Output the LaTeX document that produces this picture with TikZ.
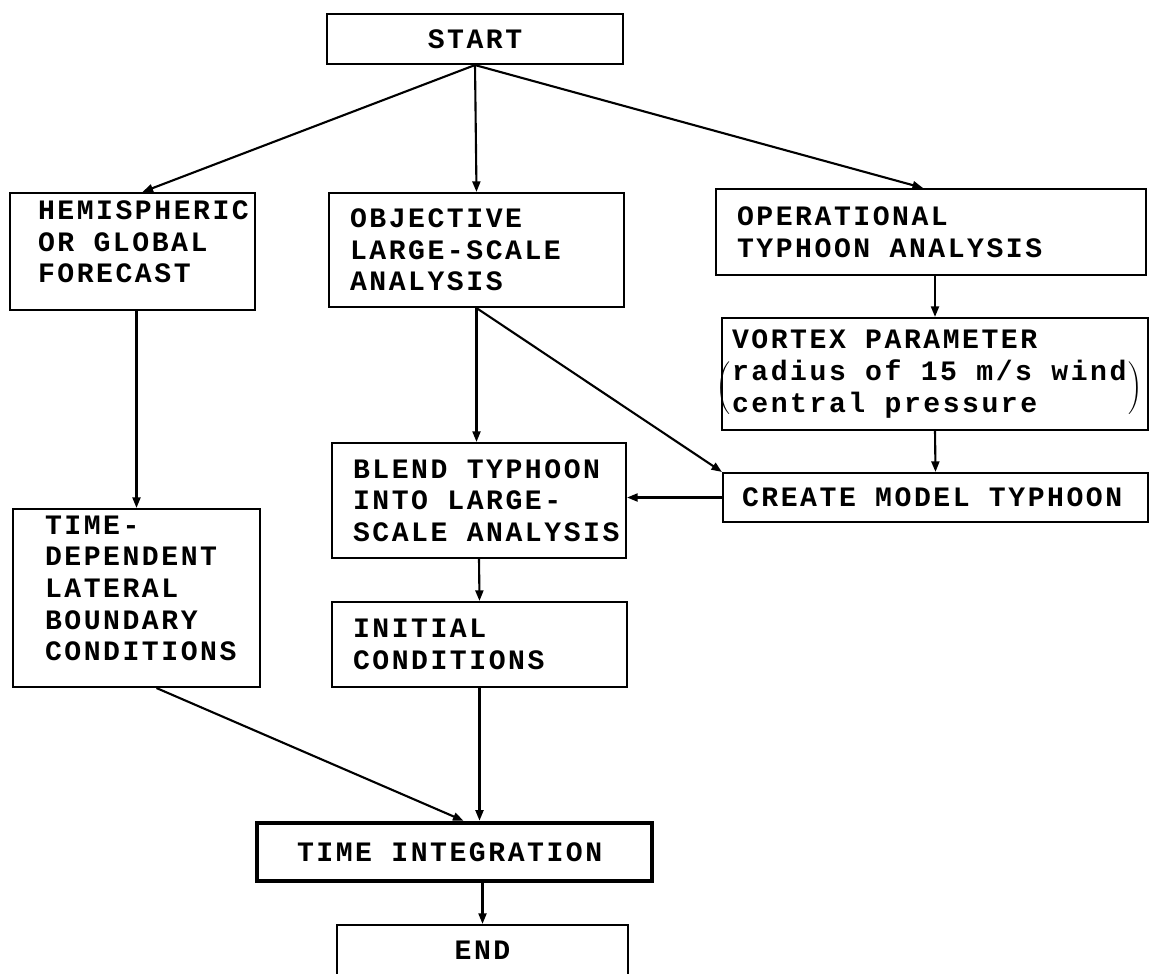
\documentclass[tikz,border=0pt]{standalone}
\usepackage{fontspec}
\newfontfamily\boxfamily[LetterSpace=9]{Liberation Mono}
\newcommand\boxfont{\fontsize{16}{18}\boxfamily\bfseries}
\newcommand\boxsetup{\spaceskip=11pt\relax\xspaceskip=11pt\relax\rightskip=-1cm plus 2em\relax\hyphenpenalty=10000\exhyphenpenalty=10000\relax}
\usetikzlibrary{arrows.meta}
\newcommand\lbig{\leavevmode\llap{\raisebox{-8.5pt}[0pt][0pt]{$\left(\vrule height 19.5pt depth 11.5pt width 0pt\right.$}}}
\newcommand\rbig{\rlap{\raisebox{-8.5pt}[0pt][0pt]{$\left.\vrule height 19.5pt depth 11.5pt width 0pt\right)$}}}

\begin{document}
\begin{tikzpicture}[
  x=0.02cm, y=-0.02cm,
  box/.style={draw, line width=1.2pt, inner ysep=0pt, align=left, font=\boxfont, execute at begin node=\boxsetup},
  mainbox/.style={box, line width=2.6pt},
  arr/.style={line width=1.2pt, -{Triangle[length=6pt, width=4.5pt]}}
]
  \useasboundingbox (0,0) rectangle (1151,973);
  \clip (0,0) rectangle (1151,973);
  \node[box, align=center, minimum width=5.92cm, minimum height=1cm] (start) at (475,39) {START};
  \node[box, inner xsep=0.56cm, text width=3.78cm, text depth=47pt, minimum height=2.34cm] (hemi) at (132.5,251.5) {HEMISPHERIC\\OR GLOBAL\\FORECAST};
  \node[box, inner xsep=0.42cm, text width=5.06cm, minimum height=2.28cm] (obj) at (476.5,250) {OBJECTIVE\\LARGE-SCALE\\ANALYSIS};
  \node[box, inner xsep=0.42cm, text width=7.76cm, minimum height=1.72cm] (oper) at (931,232) {OPERATIONAL\\TYPHOON ANALYSIS};
  \node[box, inner xsep=0.2cm, text width=8.12cm, minimum height=2.24cm] (vortex) at (935,374) {VORTEX PARAMETER\\\lbig radius of 15 m/s wind\rbig\\central pressure};
  \node[box, inner xsep=0.38cm, text width=7.74cm, minimum height=0.98cm] (create) at (935.5,497.5) {CREATE MODEL TYPHOON};
  \node[box, inner xsep=0.42cm, text width=5.04cm, minimum height=2.3cm] (blend) at (479,500.5) {BLEND TYPHOON\\INTO LARGE-\\SCALE ANALYSIS};
  \node[box, inner xsep=0.42cm, text width=5.06cm, minimum height=1.7cm] (init) at (479.5,644.5) {INITIAL\\CONDITIONS};
  \node[box, inner xsep=0.64cm, text width=3.66cm, text depth=83pt, minimum height=3.56cm] (tdep) at (136.5,598) {TIME-\\DEPENDENT\\LATERAL\\BOUNDARY\\CONDITIONS};
  \node[mainbox, inner xsep=0.8cm, text width=6.3cm, minimum height=1.16cm] (tint) at (454.5,852) {TIME INTEGRATION};
  \node[box, align=center, minimum width=5.82cm, minimum height=1cm] (end) at (482.5,950) {END};

  \draw[arr] (start.south) -- ([xshift=0.2cm]hemi.north);
  \draw[arr] (start.south) -- (obj.north);
  \draw[arr] (start.south) -- ([xshift=-0.16cm]oper.north);
  \draw[arr] (tdep.north |- hemi.south) -- (tdep.north);
  \draw[arr] (vortex.north |- oper.south) -- (vortex.north);
  \draw[arr] (vortex.south) -- (create.north);
  \draw[arr] (obj.south) -- (create.north west);
  \draw[arr] (obj.south) -- (obj.south |- blend.north);
  \draw[arr] (create.west) -- (create.west -| blend.east);
  \draw[arr] (blend.south) -- (init.north);
  \draw[arr] ([xshift=0.4cm]tdep.south) -- ([xshift=0.18cm]tint.north);
  \draw[arr] (init.south) -- (init.south |- tint.north);
  \draw[arr] (end.north |- tint.south) -- (end.north);
\end{tikzpicture}
\end{document}
